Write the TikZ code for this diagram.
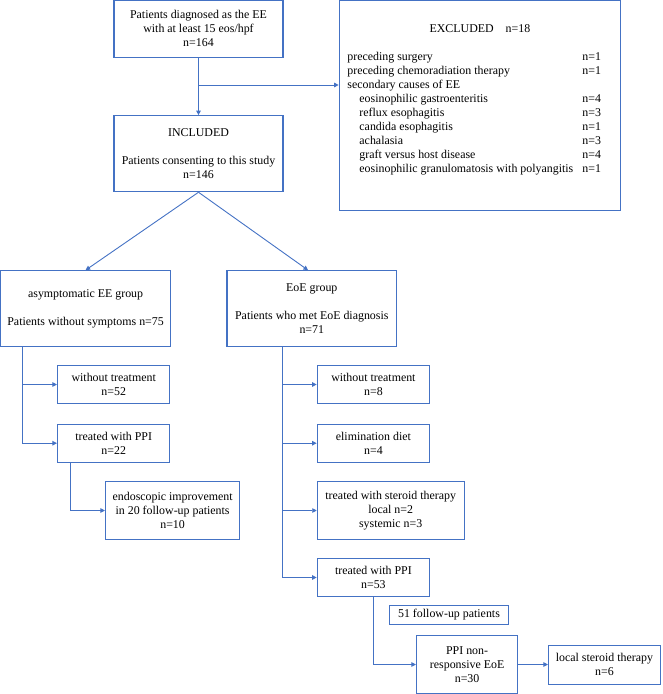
\documentclass[tikz,border=0pt]{standalone}
\usepackage{fontspec}
\setmainfont{Liberation Serif}
\usetikzlibrary{arrows.meta}
\definecolor{flowblue}{HTML}{4472C4}

\begin{document}
\begin{tikzpicture}[x=1pt,y=-1pt,->,>={Triangle[length=4.5pt,width=4.5pt]},line width=0.9pt,draw=flowblue,
    every node/.style={font=\fontsize{11.9}{14}\selectfont},
    main node/.style={draw=flowblue,line width=1.1pt,align=center,inner sep=1pt},
    small node/.style={main node,minimum width=112.4pt,minimum height=38.3pt}]
            \useasboundingbox (0,0) rectangle (662,694);

            \node[main node,minimum width=169pt,minimum height=57pt] (1) at (198.5,28.6) {Patients diagnosed as the EE\\with at least 15 eos/hpf\\n=164};
            \node[main node,minimum width=281pt,minimum height=210.5pt] (2) at (479.7,105.3) {};
            \node[anchor=north west,inner sep=0pt] (2a) at (347,22.4) {\begin{tabular}{@{}p{235pt}@{}p{30pt}@{}}
                \multicolumn{2}{@{}c@{}}{EXCLUDED\hspace{12pt}n=18}\\
                \\
                preceding surgery & n=1\\
                preceding chemoradiation therapy & n=1\\
                secondary causes of EE & \\
                \hspace*{12pt}eosinophilic gastroenteritis & n=4\\
                \hspace*{12pt}reflux esophagitis & n=3\\
                \hspace*{12pt}candida esophagitis & n=1\\
                \hspace*{12pt}achalasia & n=3\\
                \hspace*{12pt}graft versus host disease & n=4\\
                \hspace*{12pt}eosinophilic granulomatosis with polyangitis & n=1
            \end{tabular}};
            \node[main node,minimum width=169pt,minimum height=76pt] (3) at (198.5,153.7) {INCLUDED\\[14pt]Patients consenting to this study\\n=146};

            \node[main node,minimum width=170pt,minimum height=75.6pt] (4) at (85.6,308.5) {asymptomatic EE group\\[14pt]Patients without symptoms n=75};
            \node[main node,minimum width=169.6pt,minimum height=75.6pt] (5) at (311.8,308.5) {EoE group\\[14pt]Patients who met EoE diagnosis\\n=71};

            \node[small node] (6) at (113.7,384.5) {without treatment\\n=52};
            \node[small node] (7) at (113.7,443.2) {treated with PPI\\n=22};
            \node[main node,minimum width=134.2pt,minimum height=57.6pt] (8) at (172.6,510.5) {endoscopic improvement\\in 20 follow-up patients\\n=10};

            \node[small node] (9) at (373.4,384.5) {without treatment\\n=8};
            \node[small node] (10) at (373.4,443.2) {elimination diet\\n=4};
            \node[main node,minimum width=146.8pt,minimum height=57.6pt] (11) at (390.7,510.5) {treated with steroid therapy\\local n=2\\systemic n=3};
            \node[small node,minimum height=37.6pt] (12) at (373.4,577.5) {treated with PPI\\n=53};
            \node[main node,minimum width=119pt,minimum height=19.3pt] (13) at (449,614.7) {51 follow-up patients};
            \node[main node,minimum width=101.2pt,minimum height=57.4pt] (14) at (467.1,664.5) {PPI non-\\responsive EoE\\n=30};
            \node[small node,minimum width=111.8pt] (15) at (604.4,664.9) {local steroid therapy\\n=6};

            \coordinate (a) at (198.5,85);
            \path
                (1) edge (3)
                (a) edge (a -| 2.west)
                (3.south) edge (4.north)
                (3.south) edge ([xshift=-3.8pt]5.north)
                ;
            \draw ([xshift=22.6pt]4.south west) |- (6.west);
            \draw ([xshift=22.6pt]4.south west) |- (7.west);
            \draw ([xshift=13.5pt]7.south west) |- (8.west);
            \draw ([xshift=55.7pt]5.south west) |- (9.west);
            \draw ([xshift=55.7pt]5.south west) |- (10.west);
            \draw ([xshift=55.7pt]5.south west) |- (11.west);
            \draw ([xshift=55.7pt]5.south west) |- (12.west);
            \draw (12.south) |- (14.west);
            \draw (14.east) -- (14.east -| 15.west);
        \end{tikzpicture}
\end{document}
